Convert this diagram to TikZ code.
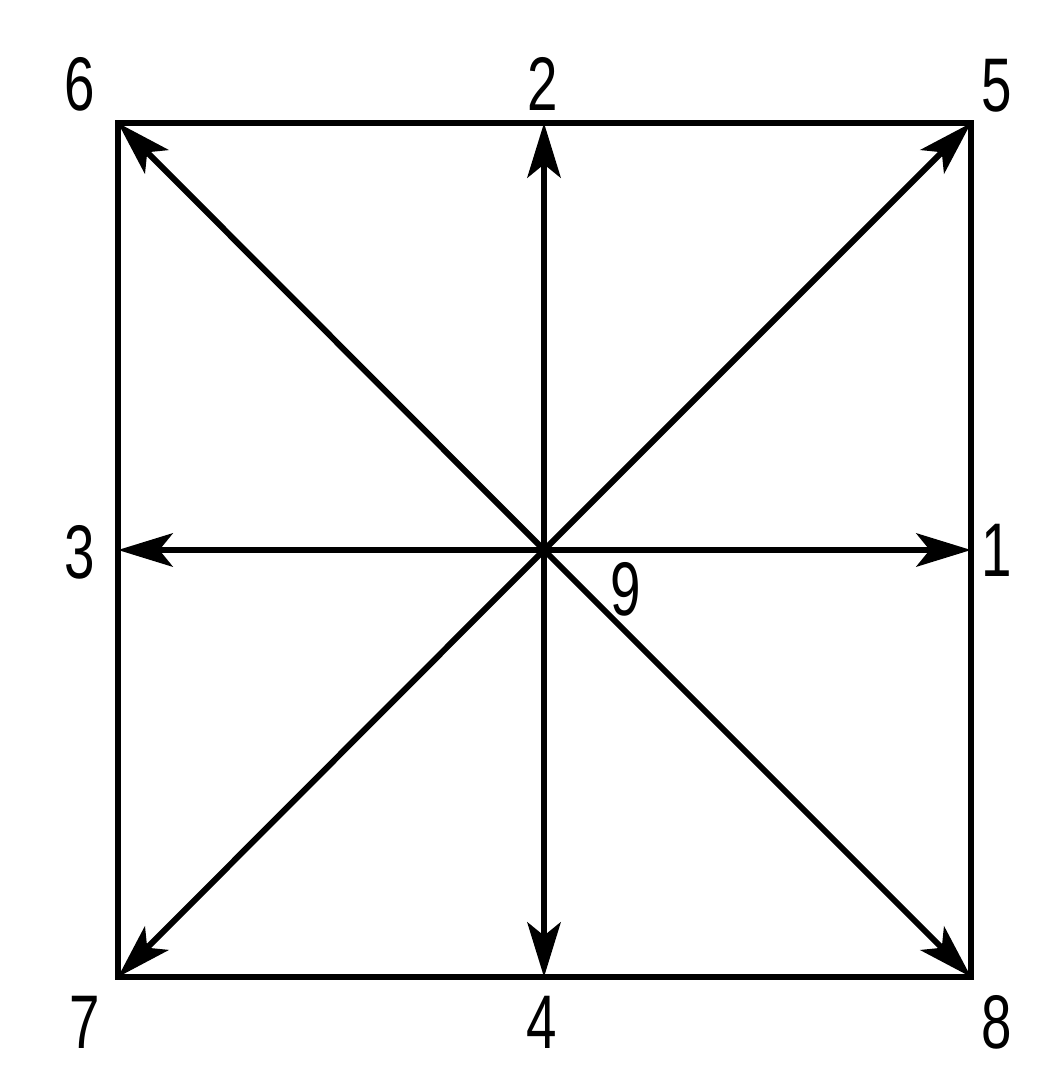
\documentclass[tikz,border=0pt]{standalone}
\usepackage{fontspec}
\usepackage{graphicx}
\setmainfont{Liberation Sans}
\usetikzlibrary{arrows.meta}
\tikzset{
  frame/.style={line width=4.5pt, line join=miter},
  ray/.style={line width=4.5pt, -{Stealth[length=41pt, width=25pt, inset=10pt]}},
  lbl/.style={inner sep=0pt, font=\fontsize{57}{60}\selectfont}
}
\newcommand{\nar}[1]{\scalebox{0.72}[1]{#1}}
\begin{document}
\begin{tikzpicture}[x=0.75pt, y=-0.75pt]
\useasboundingbox (0,0) rectangle (1056,1087);
\coordinate (c6) at (118,123);
\coordinate (c5) at (971,123);
\coordinate (c8) at (971,977);
\coordinate (c7) at (118,977);
\coordinate (m2) at (544,123);
\coordinate (m4) at (544,977);
\coordinate (m3) at (118,550);
\coordinate (m1) at (971,550);
\coordinate (o) at (544,550);
\draw[frame] (c6) -- (c5) -- (c8) -- (c7) -- cycle;
\draw[ray] (o) -- (m1);
\draw[ray] (o) -- (m2);
\draw[ray] (o) -- (m3);
\draw[ray] (o) -- (m4);
\draw[ray] (o) -- (c5);
\draw[ray] (o) -- (c6);
\draw[ray] (o) -- (c7);
\draw[ray] (o) -- (c8);
\node[lbl] (l6) at (80,84) {\nar{6}};
\node[lbl] (l2) at (543,84) {\nar{2}};
\node[lbl] (l5) at (997,86) {\nar{5}};
\node[lbl] (l3) at (80,552) {\nar{3}};
\node[lbl] (l1) at (997,550) {\nar{1}};
\node[lbl] (l9) at (626,589) {\nar{9}};
\node[lbl] (l7) at (85,1022) {\nar{7}};
\node[lbl] (l4) at (542,1022) {\nar{4}};
\node[lbl] (l8) at (997,1022) {\nar{8}};
\end{tikzpicture}
\end{document}
